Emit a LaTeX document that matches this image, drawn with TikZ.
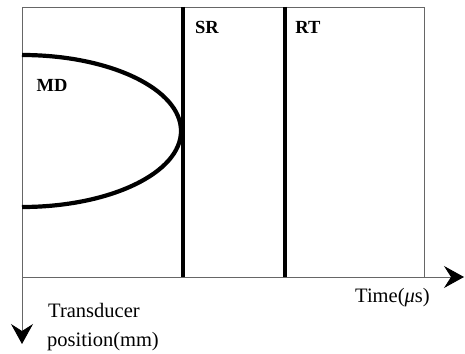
\documentclass[tikz,border=0pt]{standalone}
\usepackage{fontspec}
\setmainfont{Liberation Serif}
\usetikzlibrary{arrows.meta}
\begin{document}
\begin{tikzpicture}[x=1pt,y=1pt,
  frame/.style={draw=black!60,line width=0.9pt},
  thick line/.style={line width=4.6pt},
  axisarrow/.style={-{Stealth[length=20pt,width=22pt,inset=7pt,color=black]}},
  lbl/.style={font=\fontsize{18.5}{20}\selectfont\bfseries,inner sep=0pt},
  axlbl/.style={font=\fontsize{20.5}{23}\selectfont,inner sep=0pt,anchor=base west}]
\useasboundingbox (0,0) rectangle (465,353);
\coordinate (tl) at (22,346);
\coordinate (tr) at (424,346);
\coordinate (bl) at (22,76);
\coordinate (br) at (424,76);
\coordinate (xend) at (464,76);
\coordinate (yend) at (22,9);
\coordinate (srtop) at (183,346);
\coordinate (srbot) at (183,76);
\coordinate (rttop) at (285,346);
\coordinate (rtbot) at (285,76);
\coordinate (mdtop) at (22,298);
% frame
\draw[frame] (bl) -- (tl) -- (tr) -- (br);
\draw[frame,axisarrow] (bl) -- (xend);
\draw[frame,axisarrow] (bl) -- (yend);
% lines
\draw[thick line] (srtop) -- (srbot);
\draw[thick line] (rttop) -- (rtbot);
\draw[thick line,line width=4.2pt] (mdtop) arc[start angle=90,end angle=-90,x radius=159,y radius=76];
% labels
\node[lbl] (md) at (52,268) {MD};
\node[lbl] (sr) at (207,326) {SR};
\node[lbl] (rt) at (308,326) {RT};
\node[axlbl] (time) at (355,51) {Time({\itshape μ}s)};
\node[axlbl] (tr1) at (48,35) {Transducer};
\node[axlbl] (tr2) at (47,7) {position(mm)};
\end{tikzpicture}
\end{document}
